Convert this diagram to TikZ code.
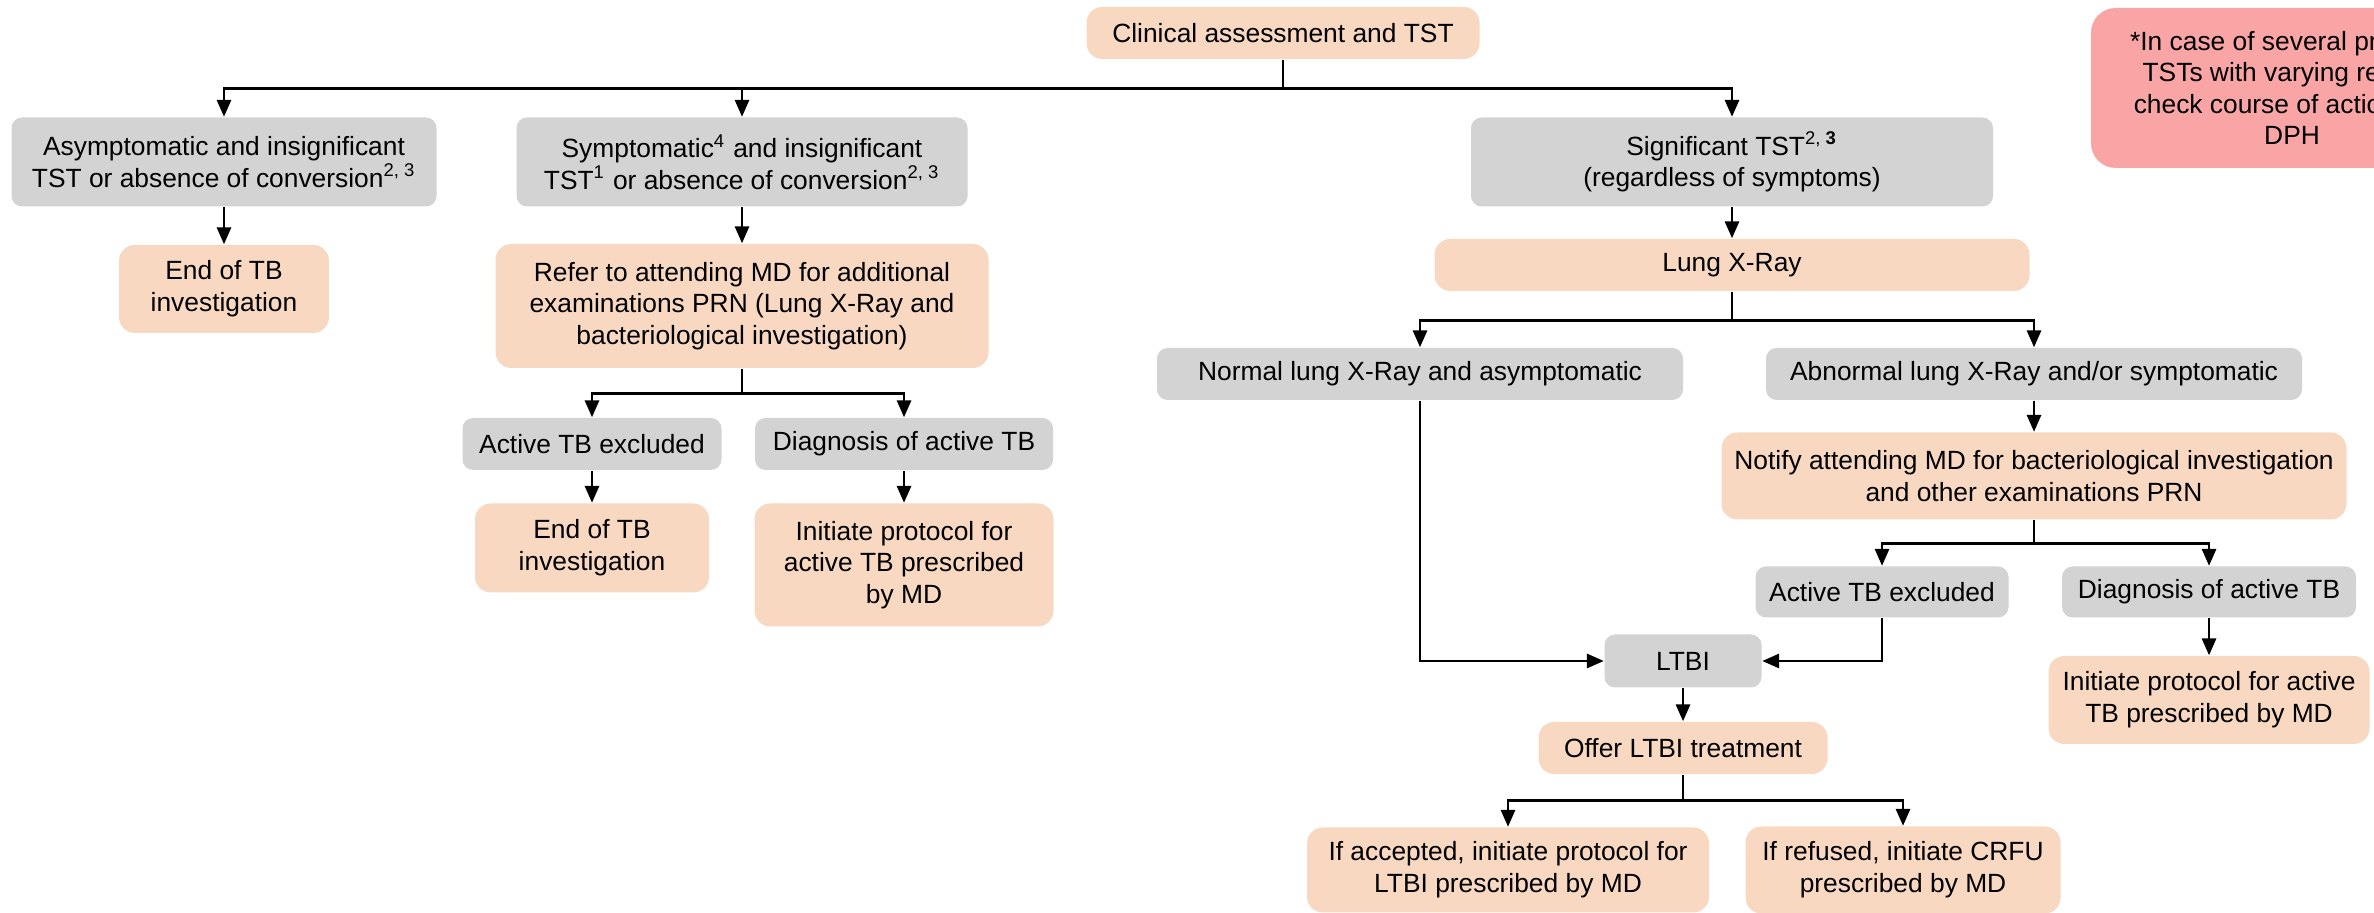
\documentclass[tikz,border=0pt]{standalone}
\usepackage{fontspec}
\setmainfont{Liberation Sans}
\usetikzlibrary{arrows.meta}

\definecolor{peach}{RGB}{248,216,193}
\definecolor{greybg}{RGB}{211,211,211}
\definecolor{notepink}{RGB}{250,165,165}

\begin{document}
\begin{tikzpicture}[
  font=\fontsize{7.5pt}{9pt}\selectfont,
  box/.style = {align=center, inner sep=1pt, draw=none},
  greybox/.style = {box, fill=greybg, rounded corners=3pt},
  peachbox/.style = {box, fill=peach, rounded corners=4.5pt},
  notebox/.style = {box, fill=notepink, rounded corners=7pt},
  arr/.style = {draw, line width=0.75pt, -{Triangle[length=4.8pt,width=4pt]}}
]
\useasboundingbox (0,0) rectangle (23.74,9.13);

% boxes
\node[peachbox, minimum width=3.93cm, minimum height=0.52cm] (clin) at (12.83, 8.80) {Clinical assessment and TST};
\node[notebox, minimum width=4.02cm, minimum height=1.60cm] (note) at (22.92, 8.25) {*In case of several previous\\TSTs with varying results,\\check course of action with\\DPH};

\node[greybox, minimum width=4.25cm, minimum height=0.89cm] (asym) at (2.24, 7.51) {Asymptomatic and insignificant\\TST or absence of conversion\textsuperscript{2, 3}};
\node[greybox, minimum width=4.51cm, minimum height=0.89cm] (symp) at (7.42, 7.51) {Symptomatic\textsuperscript{4} and insignificant\\TST\textsuperscript{1} or absence of conversion\textsuperscript{2, 3}};
\node[greybox, minimum width=5.22cm, minimum height=0.89cm] (sig) at (17.32, 7.51) {Significant TST\textsuperscript{2, \textbf{3}}\\(regardless of symptoms)};

\node[peachbox, minimum width=2.10cm, minimum height=0.88cm] (end1) at (2.24, 6.24) {End of TB\\investigation};
\node[peachbox, minimum width=4.93cm, minimum height=1.24cm] (refer) at (7.42, 6.07) {Refer to attending MD for additional\\examinations PRN (Lung X-Ray and\\bacteriological investigation)};
\node[peachbox, minimum width=5.95cm, minimum height=0.52cm] (xray) at (17.32, 6.48) {Lung X-Ray};

\node[greybox, minimum width=5.26cm, minimum height=0.52cm] (normal) at (14.20, 5.39) {Normal lung X-Ray and asymptomatic};
\node[greybox, minimum width=5.36cm, minimum height=0.52cm] (abn) at (20.34, 5.39) {Abnormal lung X-Ray and/or symptomatic};

\node[greybox, minimum width=2.59cm, minimum height=0.52cm] (excl1) at (5.92, 4.69) {Active TB excluded};
\node[greybox, minimum width=2.98cm, minimum height=0.52cm] (diag1) at (9.04, 4.69) {Diagnosis of active TB};
\node[peachbox, minimum width=2.34cm, minimum height=0.89cm] (end2) at (5.92, 3.65) {End of TB\\investigation};
\node[peachbox, minimum width=2.99cm, minimum height=1.23cm] (init1) at (9.04, 3.48) {Initiate protocol for\\active TB prescribed\\by MD};

\node[peachbox, minimum width=6.25cm, minimum height=0.87cm] (notify) at (20.34, 4.37) {Notify attending MD for bacteriological investigation\\and other examinations PRN};
\node[greybox, minimum width=2.53cm, minimum height=0.51cm] (excl2) at (18.82, 3.21) {Active TB excluded};
\node[greybox, minimum width=2.94cm, minimum height=0.51cm] (diag2) at (22.09, 3.21) {Diagnosis of active TB};
\node[peachbox, minimum width=3.21cm, minimum height=0.88cm] (init2) at (22.09, 2.13) {Initiate protocol for active\\TB prescribed by MD};

\node[greybox, minimum width=1.57cm, minimum height=0.53cm] (ltbi) at (16.83, 2.52) {LTBI};
\node[peachbox, minimum width=2.89cm, minimum height=0.52cm] (offer) at (16.83, 1.65) {Offer LTBI treatment};
\node[peachbox, minimum width=4.02cm, minimum height=0.85cm] (acc) at (15.08, 0.43) {If accepted, initiate protocol for\\LTBI prescribed by MD};
\node[peachbox, minimum width=3.15cm, minimum height=0.87cm] (ref) at (19.03, 0.43) {If refused, initiate CRFU\\prescribed by MD};

% connectors
\path[arr] (clin.south) -- ++(0,-0.29) -| (asym);
\path[arr] (clin.south) -- ++(0,-0.29) -| (symp);
\path[arr] (clin.south) -- ++(0,-0.29) -| (sig);
\path[arr] (asym) -- (end1);
\path[arr] (symp) -- (refer);
\path[arr] (refer.south) -- ++(0,-0.25) -| (excl1);
\path[arr] (refer.south) -- ++(0,-0.25) -| (diag1);
\path[arr] (excl1) -- (end2);
\path[arr] (diag1) -- (init1);
\path[arr] (sig) -- (xray);
\path[arr] (xray.south) -- ++(0,-0.29) -| (normal);
\path[arr] (xray.south) -- ++(0,-0.29) -| (abn);
\path[arr] (abn) -- (notify);
\path[arr] (notify.south) -- ++(0,-0.235) -| (excl2);
\path[arr] (notify.south) -- ++(0,-0.235) -| (diag2);
\path[arr] (diag2) -- (init2);
\path[arr] (normal.south) |- (ltbi.west);
\path[arr] (excl2.south) |- (ltbi.east);
\path[arr] (ltbi) -- (offer);
\path[arr] (offer.south) -- ++(0,-0.26) -| (acc);
\path[arr] (offer.south) -- ++(0,-0.26) -| (ref);
\end{tikzpicture}
\end{document}
